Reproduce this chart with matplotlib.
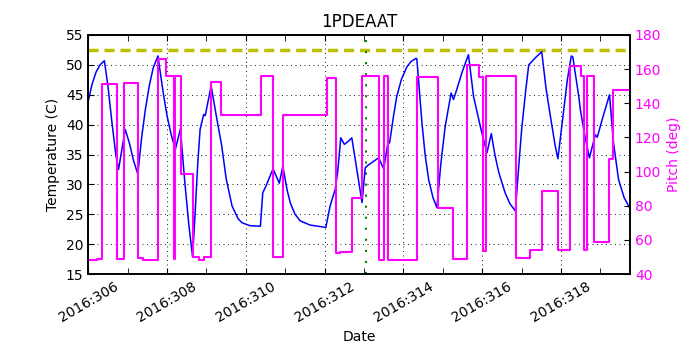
import numpy as np
import matplotlib
matplotlib.use('Agg')
import matplotlib.pyplot as plt
from matplotlib.ticker import FuncFormatter, MultipleLocator

# temperature trace (day of year 2016, deg C)
temp_doy = [306.0, 306.1, 306.2, 306.3, 306.41, 306.5, 306.6, 306.7, 306.77,
            306.94, 307.05, 307.15, 307.26, 307.35, 307.45, 307.55, 307.65, 307.77,
            307.9, 308.0, 308.1, 308.21, 308.34, 308.45, 308.55, 308.65,
            308.72, 308.78, 308.84, 308.93, 308.97, 309.12,
            309.25, 309.39, 309.5, 309.65, 309.8, 309.9, 310.1, 310.37,
            310.43, 310.51, 310.69, 310.85, 310.94,
            311.05, 311.13, 311.25, 311.38, 311.63, 312.03,
            312.14, 312.27, 312.33, 312.41, 312.5, 312.6, 312.69, 312.95,
            313.03, 313.1, 313.37, 313.5, 313.6, 313.65, 313.75, 313.83, 313.95,
            314.09, 314.2, 314.32, 314.34,
            314.47, 314.55, 314.64, 314.75, 314.85,
            314.95, 315.06, 315.21, 315.27, 315.35, 315.5, 315.65,
            315.78, 315.99, 316.12, 316.23,
            316.32, 316.42, 316.58, 316.7, 316.84,
            316.92, 317.0, 317.1, 317.18, 317.35, 317.51,
            317.62, 317.73, 317.85, 317.92,
            318.06, 318.16, 318.26, 318.3,
            318.45, 318.49, 318.6, 318.72,
            318.87, 318.92, 319.05, 319.23,
            319.33, 319.46, 319.6, 319.74]
temp_c = [43.9, 46.8, 48.8, 50.0, 50.7, 46.5, 40.5, 35.0, 32.5,
          39.2, 36.8, 34.0, 31.7, 37.5, 42.5, 46.5, 49.5, 51.5,
          45.5, 41.5, 38.5, 35.8, 39.3, 30.5, 23.5, 17.8,
          26.0, 33.5, 39.2, 41.7, 41.5, 46.5,
          41.5, 36.4, 31.0, 26.4, 24.3, 23.6, 23.1, 23.0,
          28.6, 29.7, 32.6, 30.2, 33.05,
          29.0, 26.9, 25.0, 23.9, 23.2, 22.8,
          26.4, 29.2, 32.0, 37.8, 36.7, 37.2, 37.8, 26.95,
          32.8, 33.2, 34.45, 32.6, 36.7, 37.0, 41.5, 44.7, 47.6,
          49.7, 50.6, 51.1, 51.0,
          40.3, 35.0, 30.8, 27.8, 26.1,
          33.5, 39.7, 45.3, 44.2, 45.8, 49.0, 51.7,
          44.7, 38.6, 35.3, 38.5,
          35.0, 32.0, 28.6, 26.8, 25.55,
          32.5, 39.2, 45.5, 50.0, 51.2, 52.2,
          46.0, 41.4, 36.5, 34.3,
          42.0, 47.5, 51.5, 51.3,
          44.7, 42.5, 38.3, 34.45,
          38.3, 37.9, 41.0, 45.0,
          37.0, 30.8, 27.8, 26.1]

# pitch steps (start day of each step, pitch deg)
pitch_doy = [306.0, 306.22, 306.36, 306.74, 306.9, 307.26, 307.38, 307.76, 307.97,
             308.17, 308.21, 308.36, 308.65, 308.8, 308.94, 309.11, 309.38,
             310.39, 310.68, 310.94, 312.05, 312.28, 312.4, 312.7, 312.96,
             313.39, 313.5, 313.6, 314.34, 314.87, 315.25, 315.61, 315.91,
             316.03, 316.1, 316.86, 317.22, 317.51, 317.92, 318.23, 318.51,
             318.59, 318.66, 318.84, 319.21, 319.33, 319.75]
pitch_deg = [48.2, 48.6, 151.3, 48.6, 151.7, 49.2, 48.1, 165.8, 156.0,
             49.0, 156.0, 98.4, 50.1, 48.1, 50.1, 152.7, 133.1,
             156.0, 50.1, 133.1, 154.6, 52.5, 53.0, 84.7, 156.0,
             48.2, 156.0, 48.2, 155.4, 78.5, 48.6, 162.4, 155.6,
             53.6, 156.0, 49.5, 54.0, 88.8, 54.0, 162.0, 156.0,
             54.0, 156.0, 58.9, 107.4, 147.8, 147.8]

limit_temp = 52.5
top_temp = 55.0
marker_doy = 313.05

fig = plt.figure(figsize=(7, 3.5), dpi=100)
ax = fig.add_axes([0.126, 0.217, 0.774, 0.683])

ax.axhline(top_temp, color='y', lw=1.3, zorder=1)
ax.axhline(limit_temp, color='y', lw=2.5, dashes=(2.9, 1.7))
ax.axvline(marker_doy, color='g', lw=1.5, dashes=(1, 4.3))
ax.plot(temp_doy, temp_c, color='b', lw=1.1)

ax.set_xlim(306.0, 319.75)
ax.set_ylim(15, 55)
ax.set_title('1PDEAAT', fontsize=12)
ax.set_ylabel('Temperature (C)', fontsize=10)
ax.set_xlabel('Date', fontsize=10)

ax.xaxis.set_major_locator(MultipleLocator(2))
ax.xaxis.set_minor_locator(MultipleLocator(1))
ax.xaxis.set_major_formatter(FuncFormatter(lambda v, p: '2016:%03d' % int(round(v))))
ax.yaxis.set_major_locator(MultipleLocator(5))
ax.tick_params(which='both', direction='in', top=True, labelsize=10)
ax.tick_params(which='major', length=4)
ax.tick_params(which='minor', length=4)
for lab in ax.get_xticklabels():
    lab.set_rotation(30)
    lab.set_ha('center')
ax.grid(True, which='major', color='k', lw=0.6, dashes=(1.2, 4.2))

ax2 = ax.twinx()
ax2.plot(pitch_doy, pitch_deg, color='magenta', lw=1.5, drawstyle='steps-post')
ax2.set_ylim(40, 180)
ax2.set_xlim(306.0, 319.75)
ax2.yaxis.set_major_locator(MultipleLocator(20))
ax2.set_ylabel('Pitch (deg)', color='magenta', fontsize=10)
ax2.tick_params(axis='y', direction='in', labelcolor='magenta', labelsize=10, length=4)

for a in (ax, ax2):
    for s in a.spines.values():
        s.set_linewidth(1.2)

fig.savefig('out.png', dpi=100)
